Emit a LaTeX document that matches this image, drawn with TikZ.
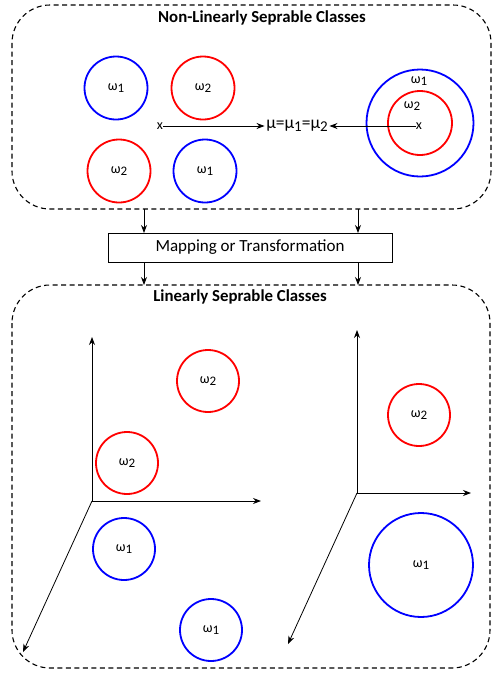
\documentclass[tikz,border=0pt]{standalone}
\usepackage{fontspec}
\setmainfont{Carlito}
\usetikzlibrary{arrows.meta}
\newcommand{\wlab}[1]{ω\raisebox{-0.3ex}{\fontsize{13}{13}\selectfont #1}}
\newcommand{\mlab}[1]{μ\raisebox{-0.3ex}{\fontsize{15}{15}\selectfont #1}}
\tikzset{
  grp/.style={draw, line width=1.1pt, rounded corners=38pt, dash pattern=on 5pt off 3.5pt},
  bc/.style={circle, draw=blue, line width=1.8pt, inner sep=0pt, font=\fontsize{14}{14}\selectfont},
  rc/.style={circle, draw=red, line width=1.8pt, inner sep=0pt, font=\fontsize{14}{14}\selectfont},
  ttl/.style={font=\fontsize{16.8}{16.8}\selectfont\bfseries},
  arr/.style={-{Stealth[length=8pt,width=6pt]}, line width=0.9pt},
  axarr/.style={-{Stealth[length=8pt,width=6pt]}, line width=0.8pt},
  mapbox/.style={draw, line width=1pt, minimum width=284pt, minimum height=29pt, inner sep=0pt, font=\fontsize{17}{17}\selectfont},
  lbl/.style={inner sep=0pt, font=\fontsize{14}{14}\selectfont}
}
\begin{document}
\begin{tikzpicture}[x=1pt,y=-1pt]
\useasboundingbox (0,0) rectangle (493,675);
% top group
\draw[grp] (12,5) rectangle (491,209);
\node[ttl] (t1) at (262,18) {Non-Linearly Seprable Classes};
\node[bc, minimum size=63pt] (a1) at (116,88) {\wlab{1}};
\node[rc, minimum size=63pt] (a2) at (203,88) {\wlab{2}};
\node[rc, minimum size=63pt] (a3) at (119,171) {\wlab{2}};
\node[bc, minimum size=63pt] (a4) at (205,171) {\wlab{1}};
\node[bc, minimum size=107pt] (big) at (420,123) {};
\node[rc, minimum size=64pt] (inner) at (420,123) {};
\node[lbl] (bl1) at (419,81) {\wlab{1}};
\node[lbl] (bl2) at (412,106) {\wlab{2}};
\node[lbl] (xl) at (160,126) {x};
\node[lbl] (xr) at (419,126) {x};
\node[inner sep=1.5pt, font=\fontsize{17.5}{17.5}\selectfont] (mu) at (297,126) {\mlab{}=\mlab{1}=\mlab{2}};
\draw[arr] (xl) -- (mu);
\draw[arr] (xr) -- (mu);
% mapping
\node[mapbox] (map) at (250,247.5) {Mapping or Transformation};
\coordinate (s1) at (144,209);
\coordinate (s2) at (358,209);
\coordinate (m1) at (144,233);
\coordinate (m2) at (358,233);
\coordinate (n1) at (144,262);
\coordinate (n2) at (358,262);
\coordinate (e1) at (144,285);
\coordinate (e2) at (358,285);
\draw[arr] (s1) -- (m1);
\draw[arr] (s2) -- (m2);
\draw[arr] (n1) -- (e1);
\draw[arr] (n2) -- (e2);
% bottom group
\draw[grp] (12,285) rectangle (490,668);
\node[ttl] (t2) at (240,297) {Linearly Seprable Classes};
% left axes
\coordinate (o1) at (92,501);
\coordinate (o1u) at (92,337);
\coordinate (o1r) at (261,501);
\coordinate (o1d) at (23,652);
\draw[axarr] (o1) -- (o1u);
\draw[axarr] (o1) -- (o1r);
\draw[axarr] (o1) -- (o1d);
% right axes
\coordinate (o2) at (357,493);
\coordinate (o2u) at (357,330);
\coordinate (o2r) at (471,493);
\coordinate (o2d) at (288,644);
\draw[axarr] (o2) -- (o2u);
\draw[axarr] (o2) -- (o2r);
\draw[axarr] (o2) -- (o2d);
% bottom circles
\node[rc, minimum size=62pt] (b1) at (208,381) {\wlab{2}};
\node[rc, minimum size=62pt] (b2) at (127,463) {\wlab{2}};
\node[bc, minimum size=62pt] (b3) at (124,549) {\wlab{1}};
\node[bc, minimum size=62pt] (b4) at (211,630) {\wlab{1}};
\node[rc, minimum size=62pt] (b5) at (419,415) {\wlab{2}};
\node[bc, minimum size=104pt] (b6) at (421,565) {\wlab{1}};
\end{tikzpicture}
\end{document}
